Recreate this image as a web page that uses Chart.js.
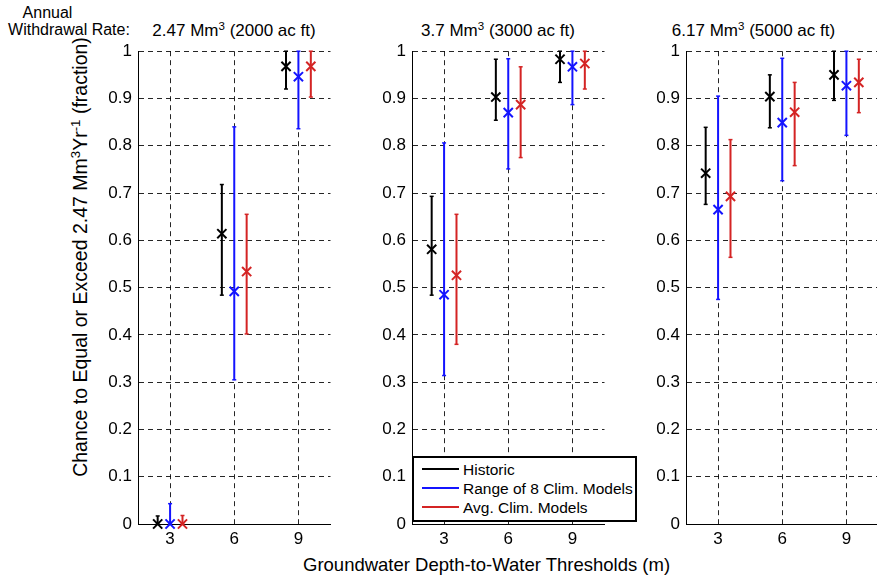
<!DOCTYPE html>
<html><head><meta charset="utf-8">
<script src="https://cdn.jsdelivr.net/npm/chart.js@4.4.1/dist/chart.umd.min.js"></script>
<style>
html,body{margin:0;padding:0;background:#fff;overflow:hidden;width:877px;height:581px;position:relative;font-family:'Liberation Sans',Arial,sans-serif;color:#000}
canvas{position:absolute}
.txt{position:absolute;white-space:nowrap;line-height:1}
sup{font-size:0.68em;vertical-align:baseline;position:relative;top:-0.5em;line-height:0}
#legend{position:absolute;left:412px;top:456px;width:225px;height:66px;border:2px solid #000;box-sizing:border-box;background:#fff;z-index:5}
.lgline{position:absolute;height:2px}
.lgtxt{position:absolute;font-size:15.5px;line-height:1;white-space:nowrap}
</style></head><body>
<div class="txt" style="font-size:16px;left:47.5px;top:4.5px;transform:translateX(-50%)">Annual</div>
<div class="txt" style="font-size:16px;left:69px;top:21.5px;transform:translateX(-50%)">Withdrawal Rate:</div>
<div class="txt" style="font-size:17px;left:234px;top:21.6px;transform:translateX(-50%)">2.47 Mm<sup>3</sup> (2000 ac ft)</div>
<div class="txt" style="font-size:17px;left:498px;top:21.6px;transform:translateX(-50%)">3.7 Mm<sup>3</sup> (3000 ac ft)</div>
<div class="txt" style="font-size:17px;left:753.5px;top:21.6px;transform:translateX(-50%)">6.17 Mm<sup>3</sup> (5000 ac ft)</div>
<div class="txt" style="font-size:18.5px;left:303px;top:556px">Groundwater Depth-to-Water Thresholds (m)</div>
<div class="txt" style="font-size:19.5px;left:80.5px;top:256.5px;transform:translate(-50%,-50%) rotate(-90deg)">Chance to Equal or Exceed 2.47 Mm<sup>3</sup>Yr<sup>-1</sup> (fraction)</div>
<canvas id="p1" width="241" height="519" style="left:98px;top:35px"></canvas>
<canvas id="p2" width="241" height="519" style="left:372px;top:35px"></canvas>
<canvas id="p3" width="241" height="519" style="left:646px;top:35px"></canvas>
<div id="legend"></div>
<script>
// ---- data ----
const categories = [3, 6, 9];
const xTickLabels = ['3', '6', '9'];
const yTicks = [0, 0.1, 0.2, 0.3, 0.4, 0.5, 0.6, 0.7, 0.8, 0.9, 1];
const yTickLabels = ['0', '0.1', '0.2', '0.3', '0.4', '0.5', '0.6', '0.7', '0.8', '0.9', '1'];
const seriesNames = ['Historic', 'Range of 8 Clim. Models', 'Avg. Clim. Models'];
const seriesColors = ['#000000', '#1414ff', '#d42424'];

// Panel 1: 2.47 Mm3
const p1HistMid = [0.0, 0.614, 0.968];
const p1HistLo = [0.0, 0.484, 0.920];
const p1HistHi = [0.017, 0.718, 1.0];
const p1RangeMid = [0.0, 0.492, 0.946];
const p1RangeLo = [0.0, 0.305, 0.836];
const p1RangeHi = [0.043, 0.840, 1.0];
const p1AvgMid = [0.0, 0.534, 0.968];
const p1AvgLo = [0.0, 0.402, 0.903];
const p1AvgHi = [0.018, 0.655, 1.0];

// Panel 2: 3.7 Mm3
const p2HistMid = [0.581, 0.903, 0.983];
const p2HistLo = [0.484, 0.854, 0.934];
const p2HistHi = [0.693, 0.983, 1.0];
const p2RangeMid = [0.485, 0.870, 0.967];
const p2RangeLo = [0.314, 0.751, 0.887];
const p2RangeHi = [0.806, 0.984, 1.0];
const p2AvgMid = [0.526, 0.887, 0.974];
const p2AvgLo = [0.380, 0.775, 0.920];
const p2AvgHi = [0.655, 0.967, 1.0];

// Panel 3: 6.17 Mm3
const p3HistMid = [0.742, 0.904, 0.950];
const p3HistLo = [0.676, 0.838, 0.896];
const p3HistHi = [0.839, 0.950, 1.0];
const p3RangeMid = [0.665, 0.849, 0.927];
const p3RangeLo = [0.475, 0.726, 0.822];
const p3RangeHi = [0.905, 0.985, 1.0];
const p3AvgMid = [0.693, 0.871, 0.934];
const p3AvgLo = [0.564, 0.758, 0.870];
const p3AvgHi = [0.813, 0.934, 0.983];

// ---- drawing ----
const FONT = "'Liberation Sans', Arial, sans-serif";
const seriesOffsets = [-0.58, 0, 0.58];

const capPlugin = {
  id: 'caps',
  afterDatasetsDraw(chart) {
    const ctx = chart.ctx;
    chart.data.datasets.forEach((d, di) => {
      if (!d.errorbar) return;
      const meta = chart.getDatasetMeta(di);
      ctx.save();
      ctx.strokeStyle = d.borderColor;
      ctx.lineWidth = 1.5;
      meta.data.forEach((pt, j) => {
        if (d.data[j].y === null || !isFinite(pt.y)) return;
        ctx.beginPath();
        ctx.moveTo(pt.x - 2, pt.y);
        ctx.lineTo(pt.x + 2, pt.y);
        ctx.stroke();
      });
      ctx.restore();
    });
  }
};

function makePanel(id, mids, los, his) {
  const datasets = [];
  for (let s = 0; s < 3; s++) {
    const bar = [];
    categories.forEach((c, i) => {
      const x = c + seriesOffsets[s];
      bar.push({x: x, y: los[s][i]}, {x: x, y: his[s][i]}, {x: x, y: null});
    });
    datasets.push({
      type: 'line', data: bar, borderColor: seriesColors[s], borderWidth: 2,
      pointRadius: 0, spanGaps: false, clip: false, order: 2, errorbar: true, tension: 0
    });
    datasets.push({
      type: 'scatter', data: categories.map((c, i) => ({x: c + seriesOffsets[s], y: mids[s][i]})),
      pointStyle: 'crossRot', pointRadius: 6.5, borderColor: seriesColors[s], backgroundColor: seriesColors[s],
      borderWidth: 2, clip: false, order: 1
    });
  }
  const gridCfg = {color: 'rgba(0,0,0,0.85)', lineWidth: 1, drawTicks: false};
  const borderCfg = {display: true, color: '#000', width: 1, dash: [5, 4]};
  new Chart(document.getElementById(id), {
    type: 'scatter',
    data: {datasets},
    options: {
      responsive: false, animation: false, events: [],
      layout: {padding: {top: 12, right: 5, left: 0, bottom: 0}},
      plugins: {legend: {display: false}, tooltip: {enabled: false}, title: {display: false}},
      scales: {
        x: {
          type: 'linear', min: 1.5, max: 10.5,
          afterBuildTicks: sc => { sc.ticks = categories.map(v => ({value: v})); },
          afterFit: sc => { sc.height = 30; },
          ticks: {callback: (v, i) => xTickLabels[i], font: {size: 17, family: FONT}, color: '#000', padding: 5, maxRotation: 0, autoSkip: false},
          grid: gridCfg, border: borderCfg
        },
        y: {
          min: 0, max: 1,
          afterBuildTicks: sc => { sc.ticks = yTicks.map(v => ({value: v})); },
          afterFit: sc => { sc.width = 40; },
          ticks: {callback: (v, i) => yTickLabels[i], font: {size: 17, family: FONT}, color: '#000', padding: 6, autoSkip: false},
          grid: gridCfg, border: borderCfg
        }
      }
    },
    plugins: [capPlugin]
  });
}

makePanel('p1', [p1HistMid, p1RangeMid, p1AvgMid], [p1HistLo, p1RangeLo, p1AvgLo], [p1HistHi, p1RangeHi, p1AvgHi]);
makePanel('p2', [p2HistMid, p2RangeMid, p2AvgMid], [p2HistLo, p2RangeLo, p2AvgLo], [p2HistHi, p2RangeHi, p2AvgHi]);
makePanel('p3', [p3HistMid, p3RangeMid, p3AvgMid], [p3HistLo, p3RangeLo, p3AvgLo], [p3HistHi, p3RangeHi, p3AvgHi]);

// legend
const lg = document.getElementById('legend');
const lineYs = [10.5, 29.7, 48.7];
const textTops = [4.0, 23.0, 42.0];
seriesNames.forEach((n, i) => {
  const ln = document.createElement('div');
  ln.className = 'lgline';
  ln.style.cssText = `left:7.7px;width:37.3px;top:${lineYs[i] - 1}px;background:${seriesColors[i]}`;
  lg.appendChild(ln);
  const t = document.createElement('div');
  t.className = 'lgtxt';
  t.style.cssText = `left:49px;top:${textTops[i]}px`;
  t.textContent = n;
  lg.appendChild(t);
});
</script>
</body></html>
